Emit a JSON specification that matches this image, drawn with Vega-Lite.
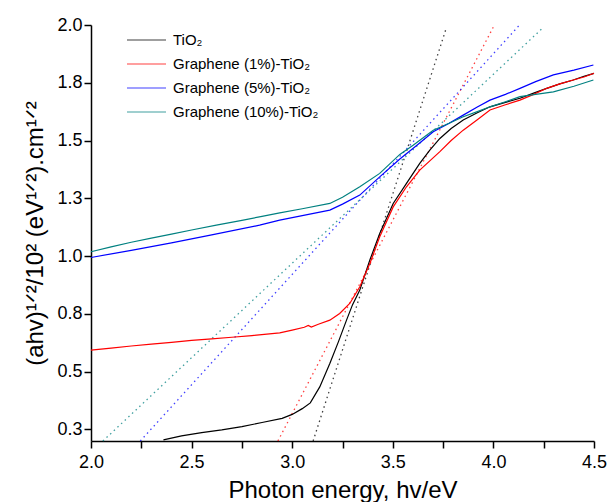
{
  "$schema": "https://vega.github.io/schema/vega-lite/v6.json",
  "autosize": "none",
  "width": 503,
  "height": 416,
  "padding": {"left": 91, "top": 25, "right": 15, "bottom": 61},
  "background": "white",
  "config": {
    "view": {"stroke": null},
    "font": "Liberation Sans",
    "axis": {
      "grid": false,
      "domainColor": "#000000",
      "domainWidth": 1.5,
      "labelFont": "Liberation Sans",
      "labelFontSize": 18,
      "labelColor": "#000000",
      "labelOverlap": false,
      "labelFlush": false,
      "titleFont": "Liberation Sans",
      "titleFontSize": 24,
      "titleFontWeight": "normal",
      "titleColor": "#000000"
    }
  },
  "datasets": {
    "curves": [
      {"x": 2.36, "y": 0.205, "s": "TiO₂"},
      {"x": 2.45, "y": 0.222, "s": "TiO₂"},
      {"x": 2.55, "y": 0.236, "s": "TiO₂"},
      {"x": 2.65, "y": 0.248, "s": "TiO₂"},
      {"x": 2.75, "y": 0.262, "s": "TiO₂"},
      {"x": 2.85, "y": 0.28, "s": "TiO₂"},
      {"x": 2.95, "y": 0.298, "s": "TiO₂"},
      {"x": 3.0, "y": 0.315, "s": "TiO₂"},
      {"x": 3.05, "y": 0.34, "s": "TiO₂"},
      {"x": 3.09, "y": 0.365, "s": "TiO₂"},
      {"x": 3.137, "y": 0.434, "s": "TiO₂"},
      {"x": 3.187, "y": 0.535, "s": "TiO₂"},
      {"x": 3.23, "y": 0.63, "s": "TiO₂"},
      {"x": 3.27, "y": 0.723, "s": "TiO₂"},
      {"x": 3.3, "y": 0.79, "s": "TiO₂"},
      {"x": 3.336, "y": 0.853, "s": "TiO₂"},
      {"x": 3.386, "y": 0.983, "s": "TiO₂"},
      {"x": 3.435, "y": 1.098, "s": "TiO₂"},
      {"x": 3.502, "y": 1.228, "s": "TiO₂"},
      {"x": 3.568, "y": 1.315, "s": "TiO₂"},
      {"x": 3.634, "y": 1.401, "s": "TiO₂"},
      {"x": 3.684, "y": 1.459, "s": "TiO₂"},
      {"x": 3.734, "y": 1.509, "s": "TiO₂"},
      {"x": 3.79, "y": 1.552, "s": "TiO₂"},
      {"x": 3.85, "y": 1.589, "s": "TiO₂"},
      {"x": 3.92, "y": 1.62, "s": "TiO₂"},
      {"x": 3.983, "y": 1.646, "s": "TiO₂"},
      {"x": 4.06, "y": 1.665, "s": "TiO₂"},
      {"x": 4.132, "y": 1.683, "s": "TiO₂"},
      {"x": 4.2, "y": 1.705, "s": "TiO₂"},
      {"x": 4.265, "y": 1.726, "s": "TiO₂"},
      {"x": 4.33, "y": 1.745, "s": "TiO₂"},
      {"x": 4.397, "y": 1.762, "s": "TiO₂"},
      {"x": 4.45, "y": 1.778, "s": "TiO₂"},
      {"x": 4.5, "y": 1.791, "s": "TiO₂"},

      {"x": 2.0, "y": 0.593, "s": "Graphene (1%)-TiO₂"},
      {"x": 2.1, "y": 0.602, "s": "Graphene (1%)-TiO₂"},
      {"x": 2.2, "y": 0.611, "s": "Graphene (1%)-TiO₂"},
      {"x": 2.3, "y": 0.619, "s": "Graphene (1%)-TiO₂"},
      {"x": 2.4, "y": 0.627, "s": "Graphene (1%)-TiO₂"},
      {"x": 2.5, "y": 0.635, "s": "Graphene (1%)-TiO₂"},
      {"x": 2.6, "y": 0.642, "s": "Graphene (1%)-TiO₂"},
      {"x": 2.7, "y": 0.649, "s": "Graphene (1%)-TiO₂"},
      {"x": 2.8, "y": 0.656, "s": "Graphene (1%)-TiO₂"},
      {"x": 2.938, "y": 0.668, "s": "Graphene (1%)-TiO₂"},
      {"x": 3.0, "y": 0.68, "s": "Graphene (1%)-TiO₂"},
      {"x": 3.06, "y": 0.692, "s": "Graphene (1%)-TiO₂"},
      {"x": 3.08, "y": 0.7, "s": "Graphene (1%)-TiO₂"},
      {"x": 3.095, "y": 0.693, "s": "Graphene (1%)-TiO₂"},
      {"x": 3.13, "y": 0.705, "s": "Graphene (1%)-TiO₂"},
      {"x": 3.187, "y": 0.723, "s": "Graphene (1%)-TiO₂"},
      {"x": 3.236, "y": 0.752, "s": "Graphene (1%)-TiO₂"},
      {"x": 3.286, "y": 0.795, "s": "Graphene (1%)-TiO₂"},
      {"x": 3.336, "y": 0.867, "s": "Graphene (1%)-TiO₂"},
      {"x": 3.386, "y": 0.968, "s": "Graphene (1%)-TiO₂"},
      {"x": 3.435, "y": 1.084, "s": "Graphene (1%)-TiO₂"},
      {"x": 3.502, "y": 1.213, "s": "Graphene (1%)-TiO₂"},
      {"x": 3.568, "y": 1.3, "s": "Graphene (1%)-TiO₂"},
      {"x": 3.634, "y": 1.372, "s": "Graphene (1%)-TiO₂"},
      {"x": 3.734, "y": 1.452, "s": "Graphene (1%)-TiO₂"},
      {"x": 3.79, "y": 1.5, "s": "Graphene (1%)-TiO₂"},
      {"x": 3.85, "y": 1.545, "s": "Graphene (1%)-TiO₂"},
      {"x": 3.92, "y": 1.59, "s": "Graphene (1%)-TiO₂"},
      {"x": 3.983, "y": 1.632, "s": "Graphene (1%)-TiO₂"},
      {"x": 4.06, "y": 1.655, "s": "Graphene (1%)-TiO₂"},
      {"x": 4.132, "y": 1.675, "s": "Graphene (1%)-TiO₂"},
      {"x": 4.2, "y": 1.7, "s": "Graphene (1%)-TiO₂"},
      {"x": 4.265, "y": 1.726, "s": "Graphene (1%)-TiO₂"},
      {"x": 4.33, "y": 1.745, "s": "Graphene (1%)-TiO₂"},
      {"x": 4.397, "y": 1.762, "s": "Graphene (1%)-TiO₂"},
      {"x": 4.45, "y": 1.775, "s": "Graphene (1%)-TiO₂"},
      {"x": 4.5, "y": 1.791, "s": "Graphene (1%)-TiO₂"},

      {"x": 2.0, "y": 0.994, "s": "Graphene (5%)-TiO₂"},
      {"x": 2.2, "y": 1.025, "s": "Graphene (5%)-TiO₂"},
      {"x": 2.4, "y": 1.057, "s": "Graphene (5%)-TiO₂"},
      {"x": 2.6, "y": 1.092, "s": "Graphene (5%)-TiO₂"},
      {"x": 2.838, "y": 1.134, "s": "Graphene (5%)-TiO₂"},
      {"x": 2.938, "y": 1.156, "s": "Graphene (5%)-TiO₂"},
      {"x": 3.05, "y": 1.175, "s": "Graphene (5%)-TiO₂"},
      {"x": 3.187, "y": 1.199, "s": "Graphene (5%)-TiO₂"},
      {"x": 3.25, "y": 1.225, "s": "Graphene (5%)-TiO₂"},
      {"x": 3.336, "y": 1.264, "s": "Graphene (5%)-TiO₂"},
      {"x": 3.435, "y": 1.343, "s": "Graphene (5%)-TiO₂"},
      {"x": 3.535, "y": 1.42, "s": "Graphene (5%)-TiO₂"},
      {"x": 3.62, "y": 1.48, "s": "Graphene (5%)-TiO₂"},
      {"x": 3.701, "y": 1.538, "s": "Graphene (5%)-TiO₂"},
      {"x": 3.78, "y": 1.575, "s": "Graphene (5%)-TiO₂"},
      {"x": 3.85, "y": 1.61, "s": "Graphene (5%)-TiO₂"},
      {"x": 3.92, "y": 1.645, "s": "Graphene (5%)-TiO₂"},
      {"x": 3.983, "y": 1.675, "s": "Graphene (5%)-TiO₂"},
      {"x": 4.06, "y": 1.7, "s": "Graphene (5%)-TiO₂"},
      {"x": 4.132, "y": 1.726, "s": "Graphene (5%)-TiO₂"},
      {"x": 4.21, "y": 1.755, "s": "Graphene (5%)-TiO₂"},
      {"x": 4.298, "y": 1.784, "s": "Graphene (5%)-TiO₂"},
      {"x": 4.4, "y": 1.805, "s": "Graphene (5%)-TiO₂"},
      {"x": 4.497, "y": 1.827, "s": "Graphene (5%)-TiO₂"},

      {"x": 2.0, "y": 1.019, "s": "Graphene (10%)-TiO₂"},
      {"x": 2.1, "y": 1.04, "s": "Graphene (10%)-TiO₂"},
      {"x": 2.2, "y": 1.06, "s": "Graphene (10%)-TiO₂"},
      {"x": 2.3, "y": 1.078, "s": "Graphene (10%)-TiO₂"},
      {"x": 2.4, "y": 1.095, "s": "Graphene (10%)-TiO₂"},
      {"x": 2.5, "y": 1.113, "s": "Graphene (10%)-TiO₂"},
      {"x": 2.623, "y": 1.134, "s": "Graphene (10%)-TiO₂"},
      {"x": 2.75, "y": 1.155, "s": "Graphene (10%)-TiO₂"},
      {"x": 2.85, "y": 1.172, "s": "Graphene (10%)-TiO₂"},
      {"x": 2.938, "y": 1.187, "s": "Graphene (10%)-TiO₂"},
      {"x": 3.05, "y": 1.205, "s": "Graphene (10%)-TiO₂"},
      {"x": 3.187, "y": 1.228, "s": "Graphene (10%)-TiO₂"},
      {"x": 3.25, "y": 1.255, "s": "Graphene (10%)-TiO₂"},
      {"x": 3.336, "y": 1.3, "s": "Graphene (10%)-TiO₂"},
      {"x": 3.435, "y": 1.358, "s": "Graphene (10%)-TiO₂"},
      {"x": 3.535, "y": 1.44, "s": "Graphene (10%)-TiO₂"},
      {"x": 3.601, "y": 1.48, "s": "Graphene (10%)-TiO₂"},
      {"x": 3.701, "y": 1.545, "s": "Graphene (10%)-TiO₂"},
      {"x": 3.78, "y": 1.575, "s": "Graphene (10%)-TiO₂"},
      {"x": 3.85, "y": 1.603, "s": "Graphene (10%)-TiO₂"},
      {"x": 3.92, "y": 1.625, "s": "Graphene (10%)-TiO₂"},
      {"x": 3.983, "y": 1.646, "s": "Graphene (10%)-TiO₂"},
      {"x": 4.06, "y": 1.668, "s": "Graphene (10%)-TiO₂"},
      {"x": 4.132, "y": 1.69, "s": "Graphene (10%)-TiO₂"},
      {"x": 4.21, "y": 1.7, "s": "Graphene (10%)-TiO₂"},
      {"x": 4.298, "y": 1.711, "s": "Graphene (10%)-TiO₂"},
      {"x": 4.4, "y": 1.735, "s": "Graphene (10%)-TiO₂"},
      {"x": 4.497, "y": 1.762, "s": "Graphene (10%)-TiO₂"}
    ],
    "fits": [
      {"x": 3.104, "y": 0.2, "s": "TiO₂"},
      {"x": 3.767, "y": 1.99, "s": "TiO₂"},
      {"x": 2.929, "y": 0.2, "s": "Graphene (1%)-TiO₂"},
      {"x": 3.999, "y": 1.99, "s": "Graphene (1%)-TiO₂"},
      {"x": 2.245, "y": 0.2, "s": "Graphene (5%)-TiO₂"},
      {"x": 4.13, "y": 2.0, "s": "Graphene (5%)-TiO₂"},
      {"x": 2.059, "y": 0.2, "s": "Graphene (10%)-TiO₂"},
      {"x": 4.24, "y": 1.983, "s": "Graphene (10%)-TiO₂"}
    ]
  },
  "encoding": {
    "x": {
      "field": "x", "type": "quantitative",
      "scale": {"domain": [2.0, 4.5], "nice": false, "zero": false},
      "axis": {
        "values": [2.0, 2.25, 2.5, 2.75, 3.0, 3.25, 3.5, 3.75, 4.0, 4.25, 4.5],
        "labelExpr": "datum.value % 0.5 == 0 ? format(datum.value, '.1f') : ''",
        "tickColor": "#000000",
        "tickSize": 7,
        "tickWidth": 1.5,
        "labelPadding": 5,
        "title": "Photon energy, hv/eV",
        "titleBaseline": "alphabetic",
        "titleY": 56
      }
    },
    "y": {
      "field": "y", "type": "quantitative",
      "scale": {"domain": [0.2, 2.0], "nice": false, "zero": false},
      "axis": {
        "values": [0.25, 0.5, 0.75, 1.0, 1.25, 1.5, 1.75, 2.0],
        "format": ".1f",
        "tickColor": "#000000",
        "tickSize": 7,
        "tickWidth": 1.5,
        "title": "(ahv)¹ᐟ²/10² (eV¹ᐟ²).cm¹ᐟ²",
        "titlePadding": 9
      }
    },
    "color": {
      "field": "s", "type": "nominal",
      "scale": {
        "domain": ["TiO₂", "Graphene (1%)-TiO₂", "Graphene (5%)-TiO₂", "Graphene (10%)-TiO₂"],
        "range": ["#000000", "#ff0000", "#0000ff", "#008080"]
      },
      "legend": {
        "orient": "none",
        "legendX": 35,
        "legendY": 3,
        "title": null,
        "padding": 0,
        "symbolType": "stroke",
        "symbolSize": 1521,
        "symbolStrokeWidth": 1.2,
        "clipHeight": 24,
        "rowPadding": 0,
        "labelFont": "Liberation Sans",
        "labelFontSize": 15,
        "labelColor": "#000000",
        "labelOffset": 6
      }
    }
  },
  "layer": [
    {
      "data": {"name": "fits"},
      "mark": {"type": "line", "strokeDash": [1.5, 3.5], "strokeWidth": 1.3, "opacity": 0.75}
    },
    {
      "data": {"name": "curves"},
      "mark": {"type": "line", "strokeWidth": 1.2}
    }
  ]
}
